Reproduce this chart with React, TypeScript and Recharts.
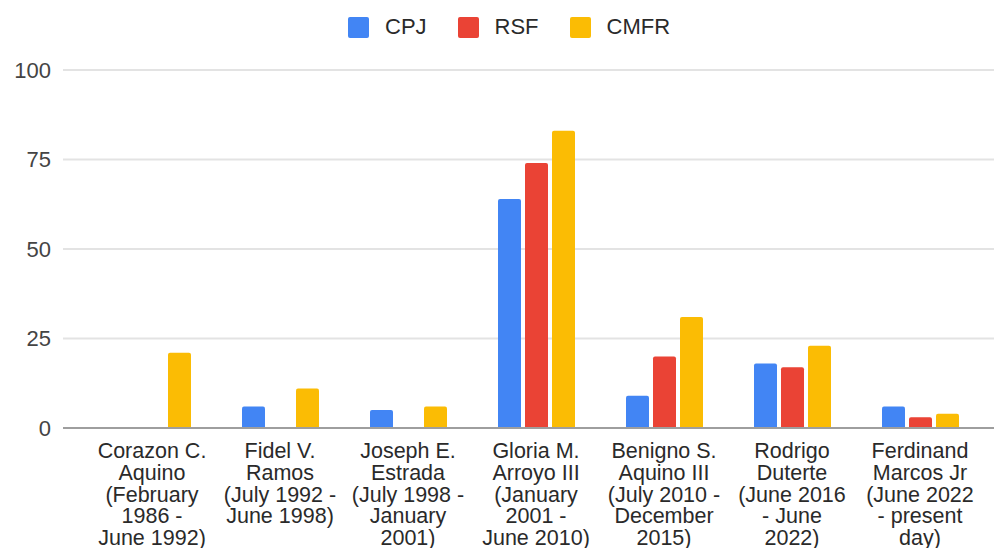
import React from 'react';
import { BarChart, Bar, XAxis, YAxis, CartesianGrid, Legend } from 'recharts';

// presidents, each label already broken into lines like the original
const presidents = [
  'Corazon C.\nAquino\n(February\n1986 -\nJune 1992)',
  'Fidel V.\nRamos\n(July 1992 -\nJune 1998)',
  'Joseph E.\nEstrada\n(July 1998 -\nJanuary\n2001)',
  'Gloria M.\nArroyo III\n(January\n2001 -\nJune 2010)',
  'Benigno S.\nAquino III\n(July 2010 -\nDecember\n2015)',
  'Rodrigo\nDuterte\n(June 2016\n- June\n2022)',
  'Ferdinand\nMarcos Jr\n(June 2022\n- present\nday)',
];

const cpj = [0, 6, 5, 64, 9, 18, 6];
const rsf = [0, 0, 0, 74, 20, 17, 3];
const cmfr = [21, 11, 6, 83, 31, 23, 4];

const yTicks = [0, 25, 50, 75, 100];

const series = [
  { key: 'CPJ', color: '#4285F4' },
  { key: 'RSF', color: '#EA4335' },
  { key: 'CMFR', color: '#FBBC04' },
];

const data = presidents.map((name, i) => ({
  name,
  CPJ: cpj[i],
  RSF: rsf[i],
  CMFR: cmfr[i],
}));

const FONT = 'Arial, "Liberation Sans", sans-serif';

const NameTick = (props: any) => {
  const { x, y, payload } = props;
  const lines: string[] = String(payload.value).split('\n');
  return (
    <text x={x} y={y + 22} textAnchor="middle" fill="#2a2a2a" fontSize={21.5} fontFamily={FONT}>
      {lines.map((l, i) => (
        <tspan key={i} x={x} dy={i === 0 ? 0 : 21.8}>{l}</tspan>
      ))}
    </text>
  );
};

const LegendBox = () => (
  <div style={{ display: 'flex', alignItems: 'center', height: 40, paddingLeft: 348, fontFamily: FONT, fontSize: 22, color: '#2a2a2a' }}>
    {series.map(s => (
      <div key={s.key} style={{ display: 'flex', alignItems: 'center', marginRight: 31 }}>
        <span style={{ width: 21, height: 21, background: s.color, borderRadius: 2, marginRight: 16, display: 'inline-block' }} />
        <span>{s.key}</span>
      </div>
    ))}
  </div>
);

export default function App() {
  return (
    <div style={{ position: 'absolute', left: 0, top: 0, width: 994, height: 548, background: '#fff' }}>
      <BarChart
        width={994}
        height={548}
        data={data}
        margin={{ top: 30, right: 0, bottom: 0, left: 0 }}
        barGap={4}
        barSize={23}
      >
        <Legend verticalAlign="top" align="left" content={<LegendBox />} wrapperStyle={{ top: 7, left: 0, width: 994 }} />
        <CartesianGrid vertical={false} stroke="#e3e3e3" strokeWidth={2} />
        <XAxis
          dataKey="name"
          interval={0}
          height={120}
          tick={<NameTick />}
          tickLine={false}
          axisLine={{ stroke: '#9e9e9e', strokeWidth: 2 }}
          padding={{ left: 25, right: 10 }}
        />
        <YAxis
          width={63}
          domain={[0, 100]}
          ticks={yTicks}
          axisLine={false}
          tickLine={false}
          tickSize={0}
          tickMargin={12}
          tick={{ fontSize: 22, fill: '#444', fontFamily: FONT }}
        />
        {series.map(s => (
          <Bar key={s.key} dataKey={s.key} fill={s.color} radius={[2, 2, 0, 0]} isAnimationActive={false} />
        ))}
      </BarChart>
    </div>
  );
}
